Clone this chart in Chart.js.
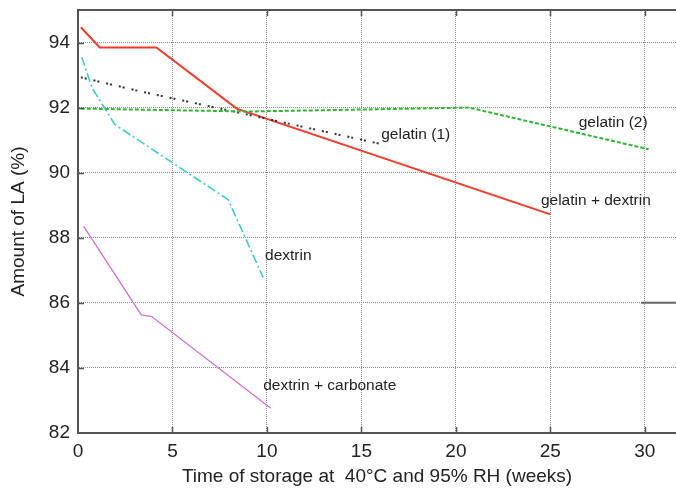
<!DOCTYPE html>
<html>
<head>
<meta charset="utf-8">
<script src="https://cdn.jsdelivr.net/npm/chart.js@4/dist/chart.umd.min.js"></script>
<style>
  html, body { margin: 0; padding: 0; background: #fff; }
  #wrap { width: 676px; height: 488px; }
</style>
</head>
<body>
<div id="wrap"><canvas id="c" width="676" height="488"></canvas></div>
<script>
// ---- data ----
const xTicks = [0, 5, 10, 15, 20, 25, 30];
const yTicks = [82, 84, 86, 88, 90, 92, 94];

const gelDexX = [0.15, 1.15, 4.15, 8.4, 25];
const gelDexY = [94.47, 93.85, 93.85, 91.97, 88.72];

const gel1X = [0.15, 3.3, 8.4, 16.2];
const gel1Y = [92.93, 92.5, 91.86, 90.86];

const gel2X = [0.15, 9, 20.7, 30.2];
const gel2Y = [91.97, 91.88, 92.0, 90.72];

const dexX = [0.2, 0.75, 1.95, 7.95, 9.8];
const dexY = [93.55, 92.6, 91.48, 89.17, 86.78];

const carbX = [0.3, 3.35, 3.9, 10.2];
const carbY = [88.35, 85.63, 85.58, 82.76];

const edgeX = [29.8, 31.7];
const edgeY = [86, 86];

const labelText = ["gelatin (1)", "gelatin (2)", "gelatin + dextrin", "dextrin", "dextrin + carbonate"];
const labelX = [16.05, 26.5, 24.5, 9.9, 9.8];
const labelY = [91.17, 91.55, 89.15, 87.45, 83.45];

function pts(xs, ys) { return xs.map((x, i) => ({ x: x, y: ys[i] })); }

const FONT = "'Liberation Sans', Arial, Helvetica, sans-serif";

const framePlugin = {
  id: 'frame',
  afterDraw(chart) {
    const ctx = chart.ctx;
    const a = chart.chartArea;
    const xs = chart.scales.x, ys = chart.scales.y;
    ctx.save();
    ctx.strokeStyle = '#555';
    ctx.lineWidth = 2;
    ctx.beginPath();
    ctx.moveTo(a.left - 1, a.top);
    ctx.lineTo(a.right, a.top);
    ctx.stroke();
    ctx.lineWidth = 1.5;
    ctx.beginPath();
    xTicks.forEach(v => {
      const px = Math.round(xs.getPixelForValue(v)) + 0.5;
      if (v !== xs.min) {
        ctx.moveTo(px, a.bottom); ctx.lineTo(px, a.bottom - 6);
        ctx.moveTo(px, a.top); ctx.lineTo(px, a.top + 6);
      }
    });
    yTicks.forEach(v => {
      const py = Math.round(ys.getPixelForValue(v)) + 0.5;
      if (v !== ys.min) { ctx.moveTo(a.left, py); ctx.lineTo(a.left + 6, py); }
    });
    ctx.stroke();
    // annotations
    ctx.fillStyle = '#222';
    ctx.font = '15.5px ' + FONT;
    ctx.textAlign = 'left';
    ctx.textBaseline = 'middle';
    labelText.forEach((t, i) => {
      ctx.fillText(t, xs.getPixelForValue(labelX[i]), ys.getPixelForValue(labelY[i]));
    });
    ctx.restore();
  }
};

new Chart(document.getElementById('c'), {
  type: 'line',
  data: {
    datasets: [
      { data: pts(carbX, carbY), borderColor: '#cf6fd2', borderWidth: 1.3 },
      { data: pts(dexX, dexY), borderColor: '#3fc9cc', borderWidth: 1.6, borderDash: [9, 3, 2, 3] },
      { data: pts(gel2X, gel2Y), borderColor: '#2fb52f', borderWidth: 2, borderDash: [4, 2] },
      { data: pts(gel1X, gel1Y), borderColor: '#333', borderWidth: 2, borderDash: [2, 2, 2, 7] },
      { data: pts(gelDexX, gelDexY), borderColor: '#f03a2a', borderWidth: 2 },
      { data: pts(edgeX, edgeY), borderColor: '#666', borderWidth: 2 }
    ].map(d => Object.assign({ pointRadius: 0, fill: false, tension: 0 }, d))
  },
  options: {
    responsive: false,
    animation: false,
    events: [],
    layout: { padding: { top: 10, right: 0, bottom: 0, left: 0 } },
    plugins: { legend: { display: false }, tooltip: { enabled: false } },
    scales: {
      x: {
        type: 'linear',
        min: 0,
        max: 31.65,
        afterBuildTicks(s) { s.ticks = xTicks.map(v => ({ value: v })); },
        afterFit(s) { s.height = 55; s.paddingLeft = 0; s.paddingRight = 0; },
        grid: { color: '#8a8a8a', lineWidth: 1, drawTicks: false },
        border: { display: true, color: '#555', width: 2, dash: [1, 1] },
        ticks: { padding: 7, color: '#222', font: { family: FONT, size: 19 }, maxRotation: 0 },
        title: { display: true, text: 'Time of storage at  40°C and 95% RH (weeks)', color: '#222',
                 font: { family: FONT, size: 19 }, padding: { top: 0, bottom: 0 } }
      },
      y: {
        type: 'linear',
        min: 82,
        max: 95,
        afterBuildTicks(s) { s.ticks = yTicks.map(v => ({ value: v })); },
        afterFit(s) { s.width = 78; s.paddingTop = 0; s.paddingBottom = 0; },
        grid: { color: '#8a8a8a', lineWidth: 1, drawTicks: false },
        border: { display: true, color: '#555', width: 2, dash: [1, 1] },
        ticks: { padding: 8, color: '#222', font: { family: FONT, size: 19 } },
        title: { display: true, text: 'Amount of LA (%)', color: '#222',
                 font: { family: FONT, size: 19 }, padding: { top: 7, bottom: 0 } }
      }
    }
  },
  plugins: [framePlugin]
});
</script>
</body>
</html>
